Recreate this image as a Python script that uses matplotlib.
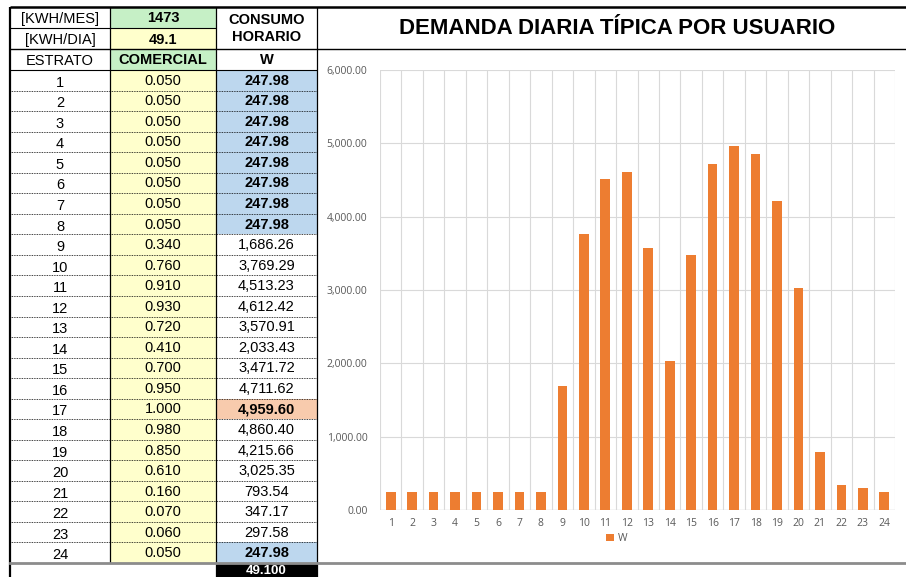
"""
Spreadsheet snapshot: hourly demand table + bar chart.
"""

import matplotlib
matplotlib.use('Agg')
import matplotlib.pyplot as plt
from matplotlib.patches import Rectangle
from matplotlib.ticker import FuncFormatter

# --- Data ---

KWH_MES = '1473'
KWH_DIA = '49.1'
TOTAL = '49.100'
ESTRATO = list(range(1, 25))
COMERCIAL = [0.050, 0.050, 0.050, 0.050, 0.050, 0.050, 0.050, 0.050,
             0.340, 0.760, 0.910, 0.930, 0.720, 0.410, 0.700, 0.950,
             1.000, 0.980, 0.850, 0.610, 0.160, 0.070, 0.060, 0.050]
W = [247.98, 247.98, 247.98, 247.98, 247.98, 247.98, 247.98, 247.98,
     1686.26, 3769.29, 4513.23, 4612.42, 3570.91, 2033.43, 3471.72, 4711.62,
     4959.60, 4860.40, 4215.66, 3025.35, 793.54, 347.17, 297.58, 247.98]

# --- Style ---

FW, FH = 906, 577
GREEN = '#c6f0c6'
YELLOW = '#ffffcc'
BLUE = '#bdd7ee'
SALMON = '#f8cbad'
ORANGE = '#ed7d31'
GRID = '#d9d9d9'
TICK = '#595959'
FONT = 'Liberation Sans'
FS = 10.5

fig = plt.figure(figsize=(FW / 100, FH / 100), dpi=100, facecolor='white')
bg = fig.add_axes([0, 0, 1, 1])
bg.set_xlim(0, FW)
bg.set_ylim(FH, 0)
bg.axis('off')

X0, X1, X2, X3 = 10, 110, 216, 317
TOP, R1, R2, R3 = 7, 28, 49, 70
BOT = 563
RH = (BOT - R3) / len(ESTRATO)


def cell(x0, y0, x1, y1, color):
    bg.add_patch(Rectangle((x0, y0), x1 - x0, y1 - y0, facecolor=color,
                           edgecolor='none', zorder=1))


def txt(x, y, s, bold=False, color='black', size=FS):
    bg.text(x, y, s, ha='center', va='center', fontsize=size, family=FONT,
            fontweight='bold' if bold else 'normal', color=color, zorder=3)


# ============ HEADER ============

cell(X1, TOP, X2, R1, GREEN)
cell(X1, R1, X2, R2, YELLOW)
cell(X1, R2, X2, R3, GREEN)

txt((X0 + X1) / 2, 18.5, '[KWH/MES]')
txt((X1 + X2) / 2, 18.5, KWH_MES, bold=True)
txt((X0 + X1) / 2, 40, '[KWH/DIA]')
txt((X1 + X2) / 2, 40, KWH_DIA, bold=True)
txt((X2 + X3) / 2, 20, 'CONSUMO', bold=True)
txt((X2 + X3) / 2, 37, 'HORARIO', bold=True)
txt((X0 + X1) / 2, 61, 'ESTRATO')
txt((X1 + X2) / 2, 60, 'COMERCIAL', bold=True)
txt((X2 + X3) / 2, 60, 'W', bold=True)

# ============ DATA ROWS ============

wmin, wmax = min(W), max(W)
for i, (e, c, w) in enumerate(zip(ESTRATO, COMERCIAL, W)):
    y0 = R3 + i * RH
    yc = y0 + RH / 2 + 0.5
    cell(X1, y0, X2, y0 + RH, YELLOW)
    hl = None
    if w == wmin:
        hl = BLUE
    elif w == wmax:
        hl = SALMON
    if hl:
        cell(X2, y0, X3, y0 + RH, hl)
    txt((X0 + X1) / 2, yc + 2, str(e))
    txt((X1 + X2) / 2, yc, f'{c:.3f}')
    txt((X2 + X3) / 2, yc, f'{w:,.2f}', bold=hl is not None)
    if i > 0:
        bg.plot([X0, X3], [y0, y0], color='black', lw=0.6,
                linestyle=(0, (1, 1)), zorder=2)

# total cell
cell(X2, BOT + 1, X3, FH, 'black')
txt((X2 + X3) / 2, 570.5, TOTAL, bold=True, color='white', size=9.5)

# ============ GRID LINES ============

k = dict(color='black', zorder=4, solid_capstyle='butt')
bg.plot([X0, FW], [TOP, TOP], lw=1.8, **k)
bg.plot([X0, X2], [R1, R1], lw=0.8, **k)
bg.plot([X0, FW], [R2, R2], lw=1.0, **k)
bg.plot([X0, X3], [R3, R3], lw=0.8, **k)
bg.plot([X0, X0], [TOP, FH], lw=1.6, **k)
bg.plot([X1, X1], [TOP, BOT], lw=0.9, **k)
bg.plot([X2, X2], [TOP, FH], lw=0.9, **k)
bg.plot([X3, X3], [TOP, FH], lw=0.9, **k)
bg.plot([X0, FW], [BOT, BOT], color='#8c8c8c', lw=2.0, zorder=4)

# ============ CHART ============

bg.text(617, 29, 'DEMANDA DIARIA TÍPICA POR USUARIO', ha='center', va='center',
        fontsize=16, fontweight='bold', family=FONT, color='black')

PL, PR, PT, PB = 380, 895, 70, 510
ax = fig.add_axes([PL / FW, 1 - PB / FH, (PR - PL) / FW, (PB - PT) / FH])
ax.set_facecolor('none')
bars = ax.bar(ESTRATO, W, width=0.45, color=ORANGE, zorder=3, label='W')
ax.set_xlim(0.5, len(ESTRATO) + 0.5)
ax.set_ylim(0, 6000)
ax.set_yticks(range(0, 6001, 1000))
ax.yaxis.set_major_formatter(FuncFormatter(lambda v, p: f'{v:,.2f}'))
ax.set_xticks(ESTRATO)
ax.set_xticks([x + 0.5 for x in range(0, len(ESTRATO) + 1)], minor=True)
ax.grid(True, which='major', axis='y', color=GRID, lw=0.8, zorder=0)
ax.grid(True, which='minor', axis='x', color=GRID, lw=0.8, zorder=0)
ax.tick_params(which='both', length=0)
ax.tick_params(axis='y', pad=9, labelsize=7.5, labelcolor=TICK)
ax.tick_params(axis='x', pad=6, labelsize=7.5, labelcolor=TICK)
for lab in ax.get_xticklabels() + ax.get_yticklabels():
    lab.set_family('Open Sans')
for s in ax.spines.values():
    s.set_visible(False)
ax.axhline(0, color=GRID, lw=1.0, zorder=2)

leg = ax.legend(loc='center', bbox_to_anchor=(0.46, -0.065), frameon=False,
                handlelength=0.7, handleheight=0.7, handletextpad=0.4,
                prop={'family': 'Open Sans', 'size': 7.5})
for t in leg.get_texts():
    t.set_color(TICK)

fig.savefig('out.png', dpi=100, facecolor='white')
